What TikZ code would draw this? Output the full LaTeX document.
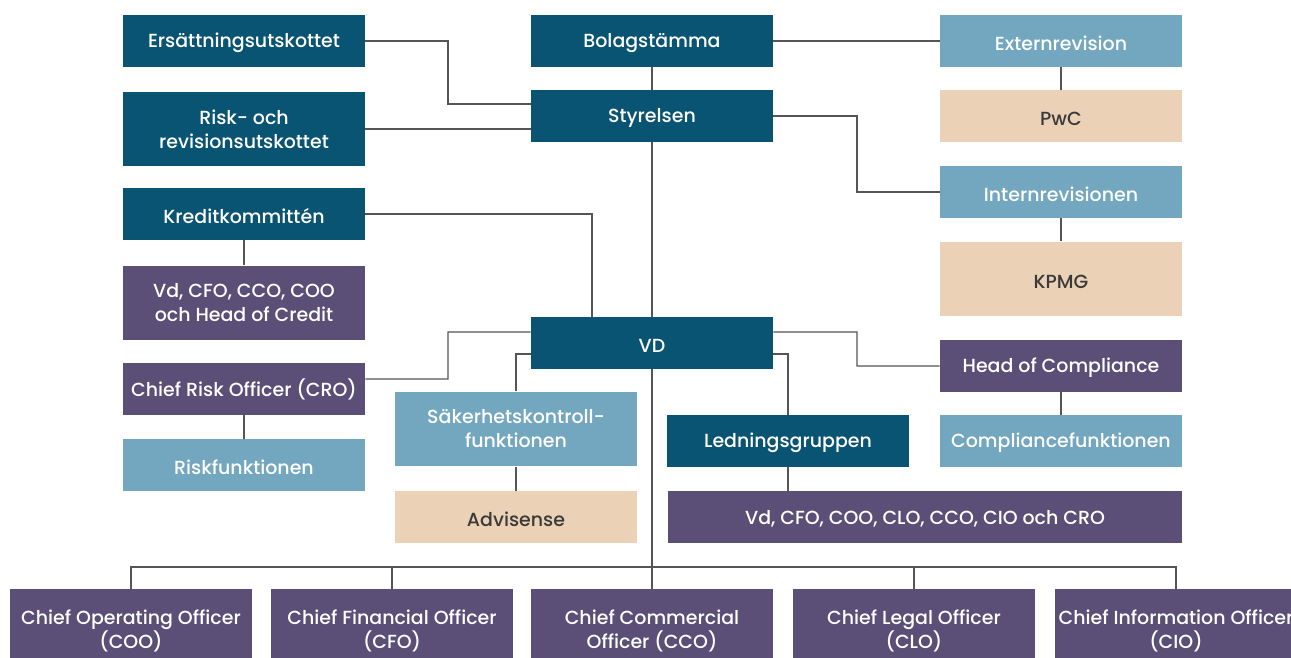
\documentclass[tikz,border=0pt]{standalone}
\usepackage{fontspec}
\setmainfont{Poppins}[UprightFont={* Medium}]
\usepackage{tikz}

\definecolor{petrol}{HTML}{0A5473}
\definecolor{lightsky}{HTML}{72A7BF}
\definecolor{sand}{HTML}{EBD1B5}
\definecolor{plum}{HTML}{5B4F78}
\definecolor{textgray}{HTML}{3A3A3A}
\definecolor{linegray}{HTML}{555555}

\begin{document}
\begin{tikzpicture}[x=0.02cm, y=-0.02cm,
    box/.style={rectangle, minimum width=4.84cm, minimum height=1.04cm, inner sep=2pt,
        align=center, text=white, font=\fontsize{10.8}{13.7}\selectfont,
        execute at begin node={\rule{0pt}{10.5pt}}},
    hi/.style={minimum height=1.5cm},
    board/.style={box, fill=petrol},
    unit/.style={box, fill=lightsky},
    firm/.style={box, fill=sand, text=textgray},
    role/.style={box, fill=plum},
    officer/.style={role, minimum height=1.68cm},
    link/.style={draw=linegray, line width=0.6pt}]

    \useasboundingbox (0,0) rectangle (1291,658);

    % 各ボックスを配置
    \node[board] (ers) at (244,41) {Ersättningsutskottet};
    \node[board] (bol) at (652,41) {Bolagstämma};
    \node[unit] (ext) at (1061,41) {Externrevision};
    \node[board] (sty) at (652,116) {Styrelsen};
    \node[board, hi] (risk) at (244,129) {Risk- och\\revisionsutskottet};
    \node[firm] (pwc) at (1061,116) {PwC};
    \node[unit] (intr) at (1061,192) {Internrevisionen};
    \node[firm, hi] (kpmg) at (1061,279) {KPMG};
    \node[board] (kred) at (244,214) {Kreditkommittén};
    \node[role, hi] (kredmem) at (244,303) {Vd, CFO, CCO, COO\\och Head of Credit};
    \node[board] (vd) at (652,343) {VD};
    \node[role] (cro) at (244,389) {Chief Risk Officer (CRO)};
    \node[unit] (riskf) at (244,465) {Riskfunktionen};
    \node[unit, hi] (sak) at (516,429) {Säkerhetskontroll-\\funktionen};
    \node[firm] (adv) at (516,517) {Advisense};
    \node[board] (led) at (788,441) {Ledningsgruppen};
    \node[role] (hoc) at (1061,366) {Head of Compliance};
    \node[unit] (compf) at (1061,441) {Compliancefunktionen};
    \node[role, minimum width=10.28cm] (ledmem) at (925,517) {Vd, CFO, COO, CLO, CCO, CIO och CRO};

    % 役員の列
    \node[officer] (coo) at (131,631) {Chief Operating Officer\\(COO)};
    \node[officer] (cfo) at (392,631) {Chief Financial Officer\\(CFO)};
    \node[officer] (cco) at (652,631) {Chief Commercial\\Officer (CCO)};
    \node[officer] (clo) at (914,631) {Chief Legal Officer\\(CLO)};
    \node[officer] (cio) at (1176,631) {Chief Information Officer\\(CIO)};

    % 接続線
    \coordinate (bus) at (652,567);
    \draw[link] (ers.east) -- (448,41) |- ([yshift=0.24cm]sty.west);
    \draw[link] (risk.east) -- (risk.east -| sty.west);
    \draw[link] (bol.east) -- (ext.west);
    \draw[link] (bol.south) -- (sty.north);
    \draw[link] (ext.south) -- (pwc.north);
    \draw[link] (sty.east) -- (857,116) |- (intr.west);
    \draw[link] (intr.south) -- (kpmg.north);
    \draw[link] (sty.south) -- (vd.north);
    \draw[link] (kred.east) -| ([xshift=-1.2cm]vd.north);
    \draw[link] (kred.south) -- (kredmem.north);
    \draw[link] ([yshift=0.22cm]vd.west) -- (448,332) |- ([yshift=0.2cm]cro.east);
    \draw[link] ([yshift=-0.22cm]vd.west) -| (sak.north);
    \draw[link] ([yshift=0.22cm]vd.east) -- (857,332) |- (hoc.west);
    \draw[link] ([yshift=-0.22cm]vd.east) -| (led.north);
    \draw[link] (cro.south) -- (riskf.north);
    \draw[link] (sak.south) -- (adv.north);
    \draw[link] (hoc.south) -- (compf.north);
    \draw[link] (led.south) -- (led.south |- ledmem.north);
    \draw[link] (vd.south) -- (bus);
    \draw[link] (coo.north) |- (bus) -| (cio.north);
    \foreach \n in {cfo,cco,clo}
        \draw[link] (\n.north) -- (\n.north |- bus);
\end{tikzpicture}
\end{document}
